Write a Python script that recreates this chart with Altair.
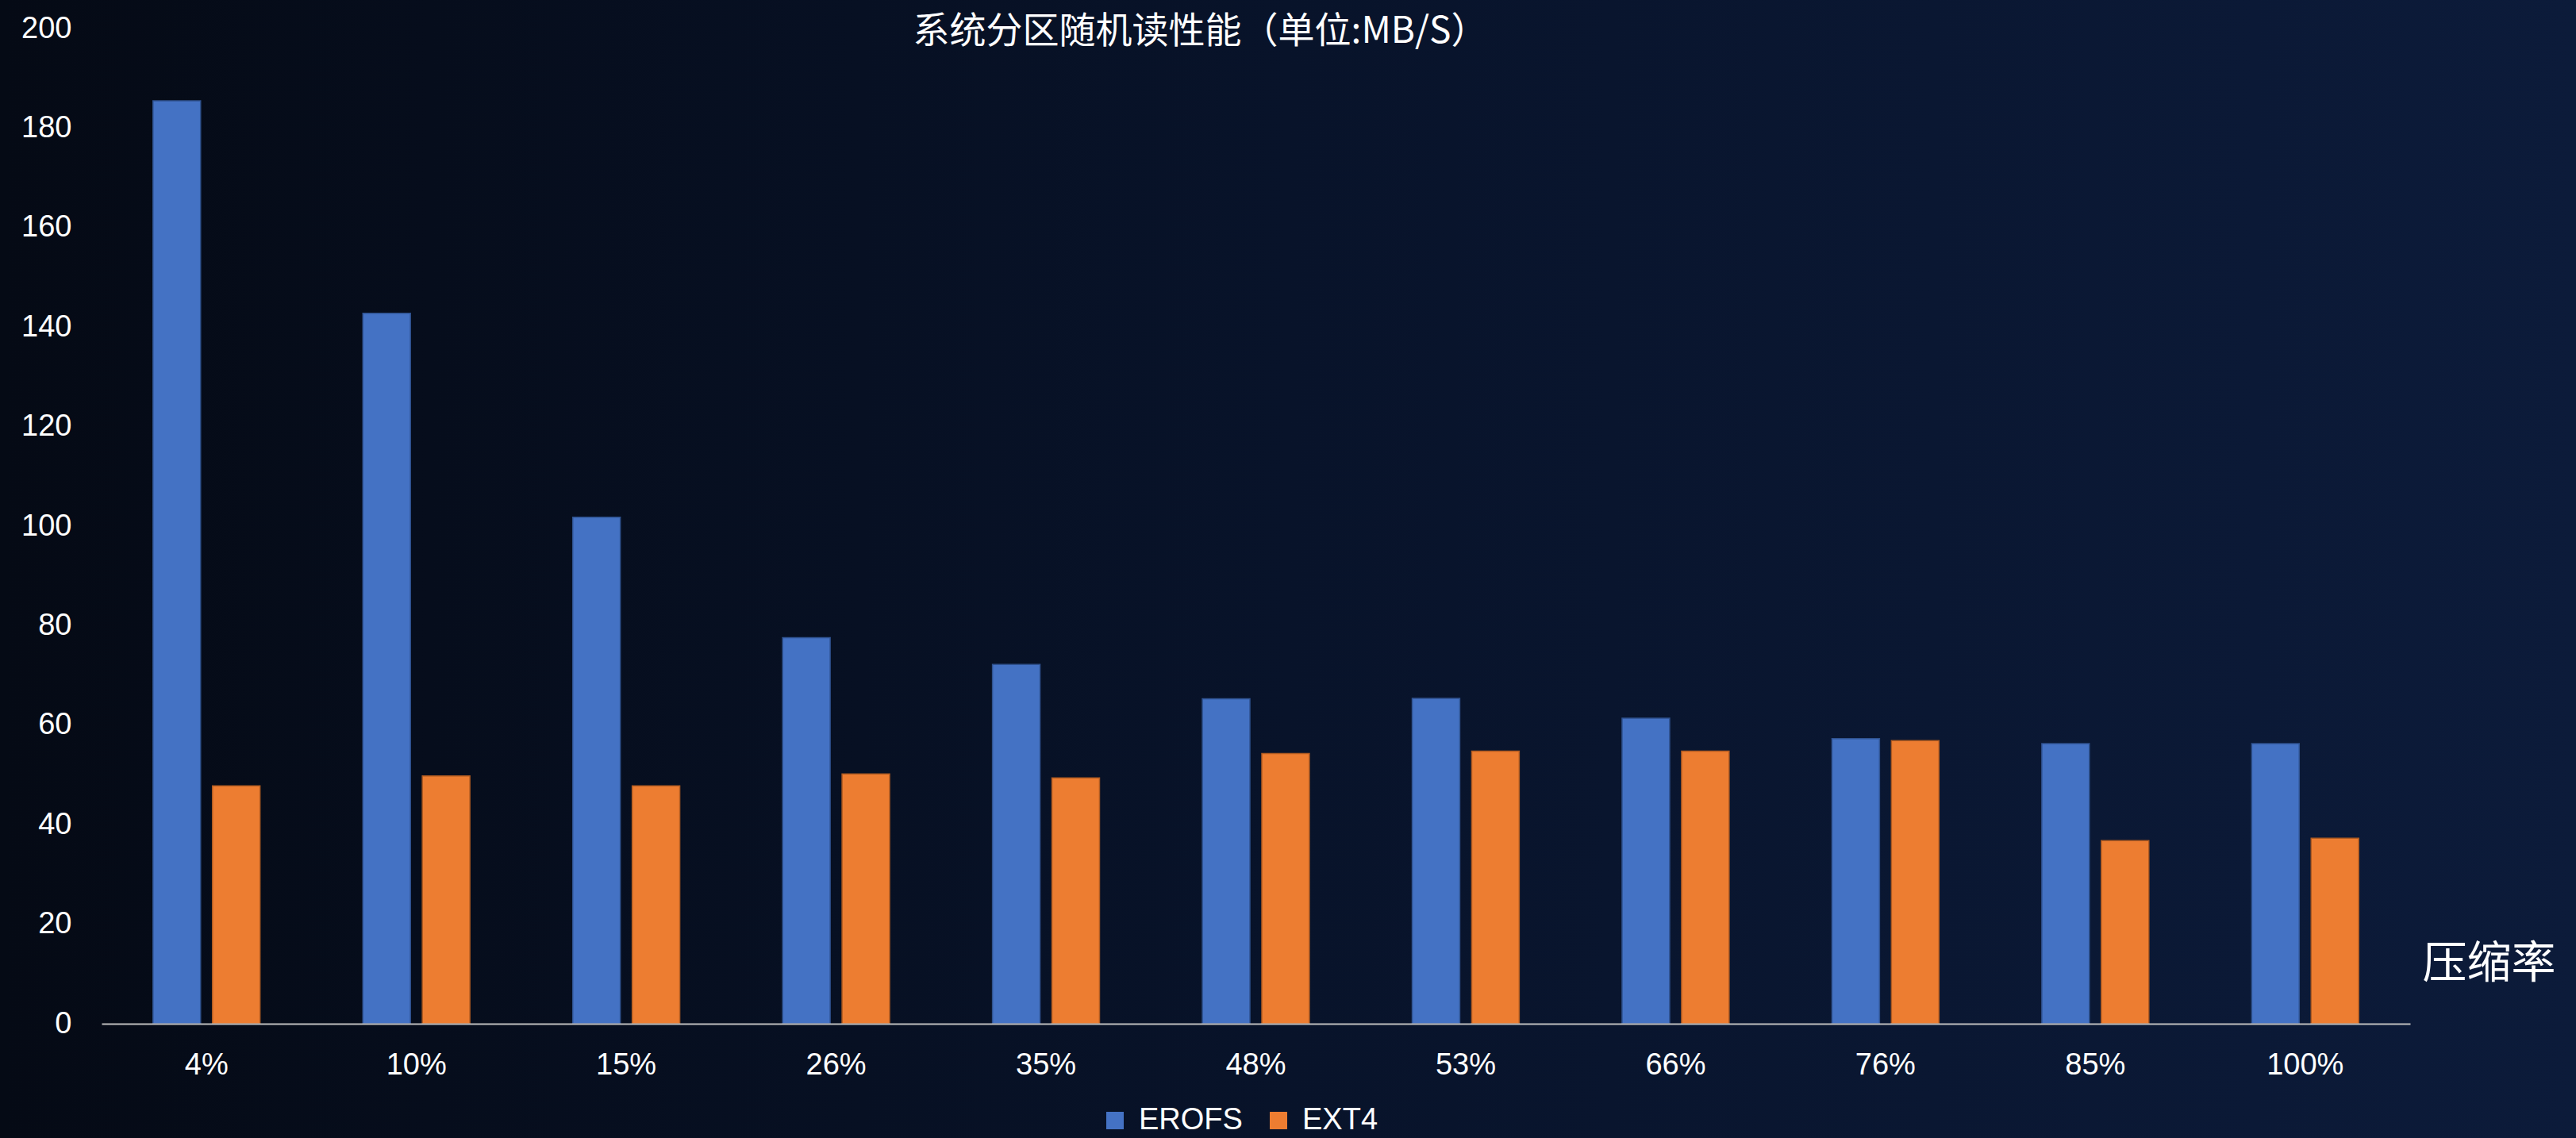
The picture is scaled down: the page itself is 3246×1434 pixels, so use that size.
import altair as alt
import pandas as pd

# ---- data ----
categories = ["4%", "10%", "15%", "26%", "35%", "48%", "53%", "66%", "76%", "85%", "100%"]
erofs = [185.5, 142.8, 101.8, 77.6, 72.2, 65.3, 65.4, 61.4, 57.3, 56.3, 56.3]
ext4 = [47.8, 49.8, 47.8, 50.2, 49.4, 54.3, 54.8, 54.8, 56.9, 36.8, 37.3]
series = ["EROFS", "EXT4"]
colors = ["#4472c4", "#ed7d31"]
borders = ["#2f528f", "#ae5a21"]
y_ticks = list(range(0, 201, 20))
title_text = "系统分区随机读性能（单位:MB/S）"
x_title = "压缩率"

rows = []
for c, a, b in zip(categories, erofs, ext4):
    rows.append({"rate": c, "fs": series[0], "value": a})
    rows.append({"rate": c, "fs": series[1], "value": b})
df = pd.DataFrame(rows)

# ---- layout ----
W, H = 2909, 1254
PL, PT, PR, PB = 128, 36, 209, 144
NARROW = "Liberation Sans Narrow, Arial Narrow, Liberation Sans, sans-serif"
CJK = "Noto Sans CJK SC"

bg = alt.Chart(alt.Data(values=[{"k": 1}])).mark_rect(
    color={
        "gradient": "linear",
        "x1": 0, "x2": 1, "y1": 0, "y2": 0,
        "stops": [
            {"offset": 0, "color": "#050a15"},
            {"offset": 0.5, "color": "#08132a"},
            {"offset": 1, "color": "#0c1b3a"},
        ],
    }
).encode(
    x=alt.value(-PL), x2=alt.value(W + PR), y=alt.value(-PT), y2=alt.value(H + PB)
)

bars = alt.Chart(df).mark_bar(strokeWidth=1.5).encode(
    x=alt.X(
        "rate:N",
        sort=categories,
        scale=alt.Scale(paddingInner=0.49, paddingOuter=0.245),
        axis=alt.Axis(
            zindex=2,
            labelAngle=0,
            labelFont=NARROW,
            labelFontSize=38,
            labelColor="#ffffff",
            labelPadding=33,
            ticks=False,
            domainColor="#bfbfbf",
            domainWidth=2,
            grid=False,
            title=x_title,
            titleFont=CJK,
            titleFontSize=56,
            titleFontWeight="normal",
            titleColor="#ffffff",
            titleAngle=0,
            titleAlign="left",
            titleBaseline="middle",
            titleX=2924,
            titleY=-76,
        ),
    ),
    xOffset=alt.XOffset("fs:N", sort=series, scale=alt.Scale(paddingInner=0.2, paddingOuter=0)),
    y=alt.Y(
        "value:Q",
        scale=alt.Scale(domain=[0, 200], nice=False),
        axis=alt.Axis(
            zindex=2,
            values=y_ticks,
            labelFont=NARROW,
            labelFontSize=38,
            labelColor="#ffffff",
            labelPadding=38,
            ticks=False,
            domain=False,
            grid=False,
            title=None,
        ),
    ),
    color=alt.Color(
        "fs:N",
        scale=alt.Scale(domain=series, range=colors),
        legend=alt.Legend(
            title=None,
            orient="none",
            direction="horizontal",
            legendX=1258,
            legendY=1357,
            zindex=2,
            symbolType="square",
            symbolSize=484,
            symbolStrokeWidth=0,
            labelFont=NARROW,
            labelFontSize=38,
            labelColor="#ffffff",
            labelOffset=11,
            columnPadding=26,
        ),
    ),
    stroke=alt.Stroke("fs:N", scale=alt.Scale(domain=series, range=borders), legend=None),
)

chart = alt.layer(bg, bars).properties(
    width=W,
    height=H,
    autosize=alt.AutoSizeParams(type="none"),
    padding={"left": PL, "top": PT, "right": PR, "bottom": PB},
    background="#08132a",
    title=alt.TitleParams(
        text=title_text,
        font=CJK,
        fontSize=46,
        fontWeight="normal",
        color="#ffffff",
        anchor="middle",
        baseline="middle",
        offset=-86,
        dx=-70,
        zindex=2,
    ),
).configure_view(strokeWidth=0)

chart.save("out.html", embed_options={"renderer": "svg", "actions": False})
